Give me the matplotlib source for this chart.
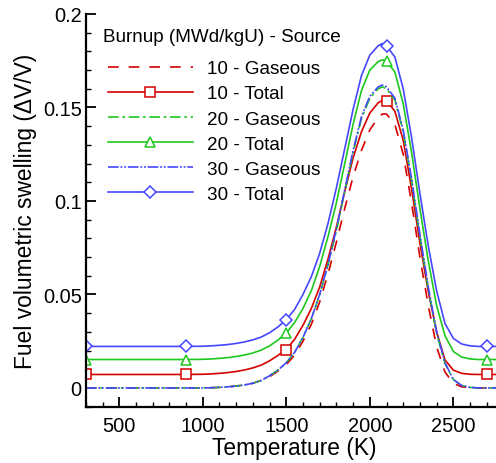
import matplotlib
matplotlib.use("Agg")
import matplotlib.pyplot as plt
from matplotlib.ticker import MultipleLocator, FuncFormatter

plt.rcParams["font.family"] = ["Liberation Sans", "DejaVu Sans"]

# temperature grid (K)
temperature = [300, 600, 900, 1000, 1050, 1100, 1150, 1200, 1250, 1300, 1350,
               1400, 1450, 1500, 1550, 1600, 1650, 1700, 1750, 1800, 1850, 1900,
               1950, 2000, 2050, 2075, 2100, 2150, 2200, 2250, 2300, 2350, 2400,
               2450, 2500, 2550, 2600, 2650, 2700, 2800]

# fuel volumetric swelling, per burnup (MWd/kgU)
gas_10 = [0, 0, 0, 0, 0.0001, 0.0003, 0.0006, 0.001, 0.0016, 0.0025, 0.004,
          0.006, 0.009, 0.0125, 0.0175, 0.025, 0.034, 0.046, 0.061, 0.078, 0.096,
          0.113, 0.127, 0.138, 0.1445, 0.1465, 0.1465, 0.141, 0.125, 0.099,
          0.070, 0.044, 0.022, 0.0085, 0.0025, 0.0006, 0.0001, 0, 0, 0]
tot_10 = [0.0072, 0.0072, 0.0072, 0.0073, 0.0075, 0.0078, 0.0082, 0.0088,
          0.0096, 0.0107, 0.0122, 0.0145, 0.0174, 0.0205, 0.026, 0.0335, 0.0425,
          0.054, 0.069, 0.086, 0.105, 0.123, 0.137, 0.147, 0.1525, 0.1538,
          0.1537, 0.148, 0.1325, 0.1065, 0.0775, 0.0515, 0.030, 0.015, 0.0095,
          0.0078, 0.0073, 0.0072, 0.0072, 0.0072]
gas_20 = [0, 0, 0, 0, 0.0001, 0.0003, 0.0006, 0.001, 0.0016, 0.0025, 0.004,
          0.0065, 0.0095, 0.0135, 0.019, 0.027, 0.037, 0.050, 0.066, 0.084, 0.105,
          0.126, 0.144, 0.155, 0.160, 0.161, 0.160, 0.154, 0.137, 0.111, 0.081,
          0.053, 0.029, 0.013, 0.0045, 0.0013, 0.0003, 0, 0, 0]
tot_20 = [0.0152, 0.0152, 0.0152, 0.0153, 0.0155, 0.0158, 0.0162, 0.0168,
          0.0176, 0.0187, 0.0202, 0.0225, 0.0256, 0.0293, 0.035, 0.0425, 0.052,
          0.065, 0.081, 0.099, 0.120, 0.141, 0.159, 0.170, 0.1745, 0.1755,
          0.1748, 0.169, 0.152, 0.126, 0.096, 0.068, 0.044, 0.028, 0.0195,
          0.0165, 0.0155, 0.0152, 0.0152, 0.0152]
gas_30 = [0, 0, 0, 0, 0.0001, 0.0003, 0.0006, 0.001, 0.0016, 0.0025, 0.004,
          0.0065, 0.0095, 0.0135, 0.019, 0.027, 0.037, 0.050, 0.066, 0.085, 0.106,
          0.127, 0.145, 0.156, 0.161, 0.162, 0.161, 0.155, 0.138, 0.112, 0.082,
          0.054, 0.030, 0.0135, 0.0045, 0.0013, 0.0003, 0, 0, 0]
tot_30 = [0.0222, 0.0222, 0.0222, 0.0223, 0.0225, 0.0228, 0.0232, 0.0238,
          0.0246, 0.0257, 0.0272, 0.0295, 0.0326, 0.0365, 0.042, 0.050, 0.0595,
          0.072, 0.088, 0.107, 0.128, 0.149, 0.167, 0.178, 0.183, 0.1842, 0.183,
          0.177, 0.160, 0.134, 0.104, 0.076, 0.052, 0.0345, 0.0265, 0.0235,
          0.0225, 0.0222, 0.0222, 0.0222]

marker_temps = [300, 900, 1500, 2100, 2700]
marks = [temperature.index(t) for t in marker_temps]

RED = "#d40000"
GREEN = "#1ec81e"
BLUE = "#4646ff"

fig = plt.figure(figsize=(4.96, 4.64), dpi=100)
ax = fig.add_axes([0.173, 0.1207, 0.842, 0.847])

lw = 1.2
ax.plot(temperature, gas_10, color=RED, lw=lw, dashes=(6.4, 6.0), label="10 - Gaseous")
ax.plot(temperature, tot_10, color=RED, lw=lw, marker="s", ms=6.5, mfc="white",
        mew=1.1, markevery=marks, label="10 - Total")
ax.plot(temperature, gas_20, color=GREEN, lw=lw, dashes=(6.4, 2.2, 1.6, 2.2),
        label="20 - Gaseous")
ax.plot(temperature, tot_20, color=GREEN, lw=lw, marker="^", ms=7.5, mfc="white",
        mew=1.1, markevery=marks, label="20 - Total")
ax.plot(temperature, gas_30, color=BLUE, lw=lw,
        dashes=(6.4, 1.1, 1.1, 1.1, 1.1, 1.1), label="30 - Gaseous")
ax.plot(temperature, tot_30, color=BLUE, lw=lw, marker="D", ms=5.8, mfc="white",
        mew=1.1, markevery=marks, label="30 - Total")

ax.set_xlim(300, 2800)
ax.set_ylim(-0.0102, 0.2)

ax.xaxis.set_major_locator(MultipleLocator(500))
ax.xaxis.set_minor_locator(MultipleLocator(100))
ax.yaxis.set_major_locator(MultipleLocator(0.05))
ax.yaxis.set_minor_locator(MultipleLocator(0.01))
ax.yaxis.set_major_formatter(FuncFormatter(lambda v, p: f"{v:g}" if abs(v) > 1e-9 else "0"))

for side in ("top", "right"):
    ax.spines[side].set_visible(False)
for side in ("left", "bottom"):
    ax.spines[side].set_linewidth(1.6)

ax.tick_params(which="major", direction="in", length=7, width=1.3, labelsize=14.4)
ax.tick_params(which="minor", direction="in", length=3.6, width=1.0)
ax.tick_params(axis="x", which="major", pad=6.5)
ax.tick_params(axis="y", which="major", pad=3)

ax.set_xlabel("Temperature (K)", fontsize=16.4, labelpad=0.5)
ax.set_ylabel("Fuel volumetric swelling (\u0394V/V)", fontsize=16.4, labelpad=4.5)

fig.text(103 / 496, 1 - 37 / 464, "Burnup (MWd/kgU) - Source", fontsize=13.6,
         ha="left", va="center")
ax.legend(loc="upper left", bbox_to_anchor=(107.5 / 496, 1 - 61 / 464),
          bbox_transform=fig.transFigure, frameon=False, fontsize=13.6,
          borderpad=0, borderaxespad=0, handlelength=4.5, handletextpad=0.75,
          labelspacing=0.42)

fig.savefig("out.png", dpi=100)
